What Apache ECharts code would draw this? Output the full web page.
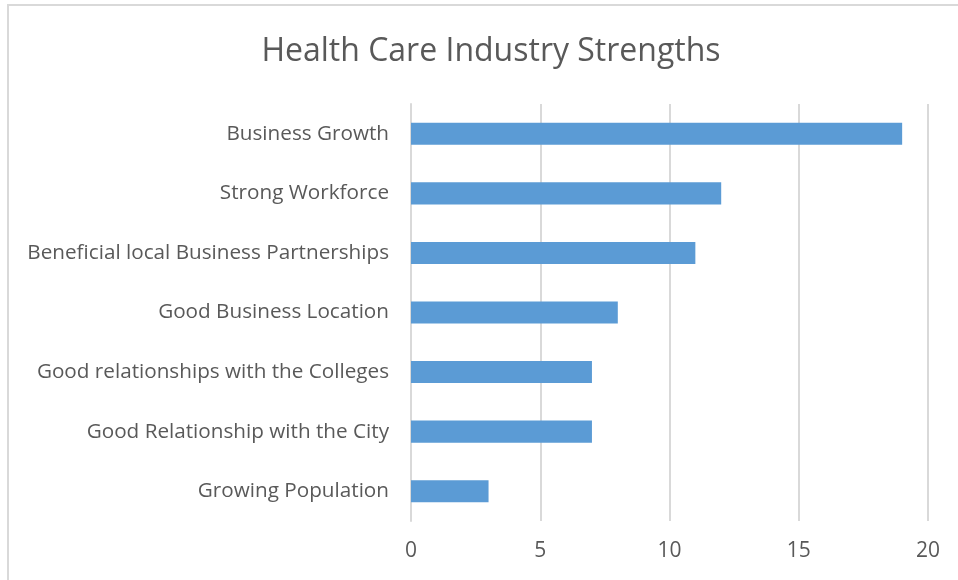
<!DOCTYPE html>
<html>
<head>
<meta charset="utf-8">
<script src="https://cdn.jsdelivr.net/npm/echarts@6/dist/echarts.min.js"></script>
<style>
  html, body { margin: 0; padding: 0; background: #fff; }
  #chart { width: 958px; height: 580px; }
</style>
</head>
<body>
<div id="chart"></div>
<script>
// Categories listed bottom to top (category axis on y starts at the bottom)
const categories = [
  'Growing Population',
  'Good Relationship with the City',
  'Good relationships with the Colleges',
  'Good Business Location',
  'Beneficial local Business Partnerships',
  'Strong Workforce',
  'Business Growth'
];
const counts = [3, 7, 7, 8, 11, 12, 19];
const titleText = 'Health Care Industry Strengths';

const chart = echarts.init(document.getElementById('chart'));
const font = '"Open Sans", "Liberation Sans", sans-serif';

chart.setOption({
  animation: false,
  backgroundColor: '#fff',
  graphic: [{
    type: 'rect',
    shape: { x: 8, y: 5, width: 960, height: 590 },
    style: { fill: 'none', stroke: '#d9d9d9', lineWidth: 2 },
    silent: true
  }],
  title: {
    text: titleText,
    left: 486,
    textAlign: 'center',
    top: 31,
    textStyle: { fontFamily: font, fontSize: 32, fontWeight: 'normal', color: '#595959' }
  },
  grid: { left: 411, right: 30, top: 104, bottom: 59 },
  xAxis: {
    type: 'value',
    min: 0, max: 20, interval: 5,
    axisLine: { show: false },
    axisTick: { show: false },
    splitLine: { lineStyle: { color: '#d9d9d9', width: 2 } },
    axisLabel: { fontFamily: font, fontSize: 21, color: '#595959', margin: 20 }
  },
  yAxis: {
    type: 'category',
    data: categories,
    axisLine: { show: true, lineStyle: { color: '#d9d9d9', width: 2 } },
    axisTick: { show: false },
    axisLabel: { fontFamily: font, fontSize: 20.7, color: '#595959', margin: 22, padding: [5, 0, 0, 0] }
  },
  series: [{
    type: 'bar',
    data: counts,
    barCategoryGap: '63%',
    itemStyle: { color: '#5b9bd5' }
  }]
});
</script>
</body>
</html>
